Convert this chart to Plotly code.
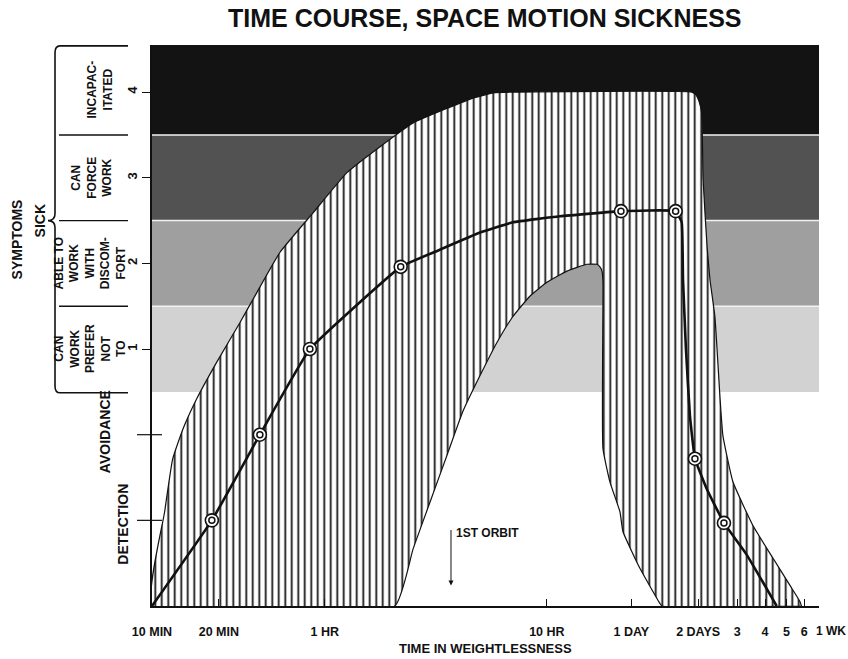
import numpy as np
import plotly.graph_objects as go

# ---------------- data (time in minutes, symptom level) ----------------
# symptom scale: -2 = none, -1 = detection, 0 = avoidance, 1..4 = sick levels
max_t = [10, 11.4, 12.4, 13.8, 15.9, 19.6, 24.9, 28.5, 37.7, 53.1, 75.5, 106, 150,
         213, 279, 344, 420, 2700, 2810, 2900, 2986, 3031, 3158, 3255, 3425, 3608,
         3722, 4129, 5080, 6250, 7460, 8280, 8400]
max_y = [-2, -0.90, -0.28, 0.07, 0.42, 0.85, 1.31, 1.58, 2.13, 2.59, 3.06, 3.36, 3.64,
         3.81, 3.93, 3.99, 4.0, 4.0, 3.97, 3.90, 3.76, 2.98, 2.20, 1.81, 1.38, 0.45,
         -0.01, -0.55, -1.06, -1.44, -1.76, -1.95, -2]

min_t = [10, 124, 150, 179, 213, 251, 300, 358, 422, 504, 600, 739, 909, 1008, 1040,
         1062, 1073, 1073, 1153, 1280, 1320, 1574, 1937, 1977, 8400]
min_y = [-2, -2, -1.33, -0.78, -0.24, 0.27, 0.69, 1.08, 1.38, 1.62, 1.78, 1.91, 1.99,
         1.99, 1.96, 1.91, 1.78, -0.16, -0.55, -0.90, -1.13, -1.56, -1.97, -2, -2]

mean_t = [10, 18.6, 30.6, 51.4, 131.8, 198, 300, 422, 687, 1293, 2280, 2427, 2461,
          2537, 2644, 2785, 3145, 3762, 4760, 6497]
mean_y = [-2, -1, 0, 1, 1.96, 2.16, 2.36, 2.48, 2.55, 2.61, 2.61, 2.48, 1.81, 1.0,
          0.22, -0.28, -0.63, -1.03, -1.40, -2]

obs_t = [18.6, 30.6, 51.4, 131.8, 1293, 2280, 2785, 3762]
obs_y = [-1, 0, 1, 1.96, 2.61, 2.61, -0.28, -1.03]

x_tick_vals = [10, 20, 60, 600, 1440, 2880, 4320, 5760, 7200, 8640, 10080]
x_tick_text = ["10 MIN", "20 MIN", "1 HR", "10 HR", "1 DAY", "2 DAYS", "3", "4", "5", "6", ""]
week_label = "1 WK"
y_tick_vals = [1, 2, 3, 4]
y_tick_text = ["1", "2", "3", "4"]

band_edges = [0.5, 1.5, 2.5, 3.5, 4.55]
band_colors = ["#d2d2d2", "#9f9f9f", "#525252", "#131313"]

orbit_t = 222

FONT = "Liberation Sans, Arial, sans-serif"
INK = "#111111"

PLOT_L = 152  # plot-area left edge in the picture

fig = go.Figure()

# hatched range of individual responses
poly_t = max_t + min_t[::-1]
poly_y = max_y + min_y[::-1]
fig.add_trace(go.Scatter(
    x=poly_t, y=poly_y, mode="lines", fill="toself",
    line=dict(color=INK, width=1.2, shape="spline", smoothing=0.4),
    fillcolor="white",
    fillpattern=dict(shape="|", size=6.5, solidity=0.27, fgcolor=INK,
                     bgcolor="white", fillmode="replace"),
    hoverinfo="skip", showlegend=False))

# mean course
fig.add_trace(go.Scatter(x=mean_t, y=mean_y, mode="lines",
                         line=dict(color=INK, width=2.6, shape="spline", smoothing=0.3),
                         showlegend=False))
fig.add_trace(go.Scatter(x=obs_t, y=obs_y, mode="markers",
                         marker=dict(symbol="circle", size=13, color="white",
                                     line=dict(color=INK, width=1.6)),
                         showlegend=False))
fig.add_trace(go.Scatter(x=obs_t, y=obs_y, mode="markers",
                         marker=dict(symbol="circle-open", size=6, color=INK,
                                     line=dict(color=INK, width=1.5)),
                         showlegend=False))

shapes = []
for i, c in enumerate(band_colors):
    shapes.append(dict(type="rect", xref="paper", yref="y", x0=0, x1=1,
                       y0=band_edges[i], y1=band_edges[i + 1], fillcolor=c,
                       line=dict(width=0), layer="below"))
for e in band_edges[1:4]:
    shapes.append(dict(type="line", xref="paper", yref="y", x0=0, x1=1, y0=e, y1=e,
                       line=dict(color="#f2f2f2", width=1.5), layer="below"))

# long ticks for detection / avoidance
for lv in (-1, 0):
    shapes.append(dict(type="line", xref="paper", xsizemode="pixel", xanchor=0,
                       x0=-15, x1=10, yref="y", y0=lv, y1=lv,
                       line=dict(color=INK, width=1.2)))

# brace and separators of the "sick" block
brace = ("M -24,4.54 L -92,4.54 Q -97,4.54 -97,4.46 L -97,2.58 "
         "Q -97,2.5 -104,2.5 Q -97,2.5 -97,2.42 L -97,0.57 "
         "Q -97,0.49 -92,0.49 L -24,0.49")
shapes.append(dict(type="path", xref="paper", xsizemode="pixel", xanchor=0,
                   yref="y", path=brace, line=dict(color=INK, width=1.6)))
for e in (1.5, 2.5, 3.5):
    shapes.append(dict(type="line", xref="paper", xsizemode="pixel", xanchor=0,
                       x0=-93, x1=-24, yref="y", y0=e, y1=e,
                       line=dict(color=INK, width=1.4)))


def side(text, xpx, y, size=12):
    return dict(text=text, xref="paper", x=0, xshift=xpx - PLOT_L, xanchor="center",
                yref="y", y=y, yanchor="middle", textangle=-90, showarrow=False,
                align="center", font=dict(family=FONT, size=size, color=INK,
                                          weight="bold"))


annotations = [
    side("SYMPTOMS", 17, 2.28, 14),
    side("SICK", 40, 2.49, 14),
    side("CAN<br>WORK<br>PREFER<br>NOT<br>TO", 90, 1.0),
    side("ABLE TO<br>WORK<br>WITH<br>DISCOM-<br>FORT", 90, 2.0),
    side("CAN<br>FORCE<br>WORK", 92, 3.0),
    side("INCAPAC-<br>ITATED", 100, 4.03),
    side("AVOIDANCE", 105, 0.03, 14),
    side("DETECTION", 123, -1.05, 14),
    dict(text="TIME COURSE, SPACE MOTION SICKNESS", xref="paper", x=0,
         xshift=484 - PLOT_L, yref="paper", y=1, yshift=27, xanchor="center",
         yanchor="middle", showarrow=False,
         font=dict(family=FONT, size=25, color=INK, weight="bold")),
    dict(text="TIME IN WEIGHTLESSNESS", xref="paper", x=0, xshift=485 - PLOT_L,
         yref="paper", y=0, yshift=-42, xanchor="center", yanchor="middle",
         showarrow=False, font=dict(family=FONT, size=13, color=INK, weight="bold")),
    dict(text=week_label, x=np.log10(x_tick_vals[-1]), xanchor="left", xshift=-5,
         yref="paper", y=0, yshift=-25, yanchor="middle", showarrow=False,
         font=dict(family=FONT, size=12, color=INK, weight="bold")),
    dict(text="", x=np.log10(orbit_t), y=-1.76, ax=0, ay=-57, showarrow=True,
         arrowhead=2, arrowsize=1, arrowwidth=1, arrowcolor=INK),
    dict(text="1ST ORBIT", x=np.log10(orbit_t), y=-1.15, xanchor="left", xshift=3,
         yanchor="middle", showarrow=False,
         font=dict(family=FONT, size=12, color=INK, weight="bold")),
]

fig.update_layout(
    width=848, height=659, autosize=False,
    margin=dict(l=PLOT_L, r=29, t=45, b=53, pad=0),
    paper_bgcolor="white", plot_bgcolor="white",
    shapes=shapes, annotations=annotations, showlegend=False,
    xaxis=dict(type="log", range=[1, np.log10(10080)], showline=True, linecolor=INK,
               linewidth=1.5, ticks="inside", ticklen=7, tickwidth=1.2, tickcolor=INK,
               tickmode="array", tickvals=x_tick_vals, ticktext=x_tick_text,
               tickangle=0, automargin=False,
               tickfont=dict(family=FONT, size=12.5, color=INK, weight="bold"),
               ticklabelstandoff=13, showgrid=False, zeroline=False),
    yaxis=dict(range=[-2, 4.55], showline=True, linecolor=INK, linewidth=1.5,
               ticks="outside", ticklen=8, tickwidth=1.2, tickcolor=INK,
               tickmode="array", tickvals=y_tick_vals, ticktext=y_tick_text,
               tickangle=-90, automargin=False,
               tickfont=dict(family=FONT, size=13, color=INK, weight="bold"),
               showgrid=False, zeroline=False),
)

# place the 848x659 figure flush with the page corner (no default body margin)
fig.write_html("out.html",
               config={"displayModeBar": False},
               post_script="document.body.style.margin='0';"
                           "document.body.style.overflow='hidden';")
